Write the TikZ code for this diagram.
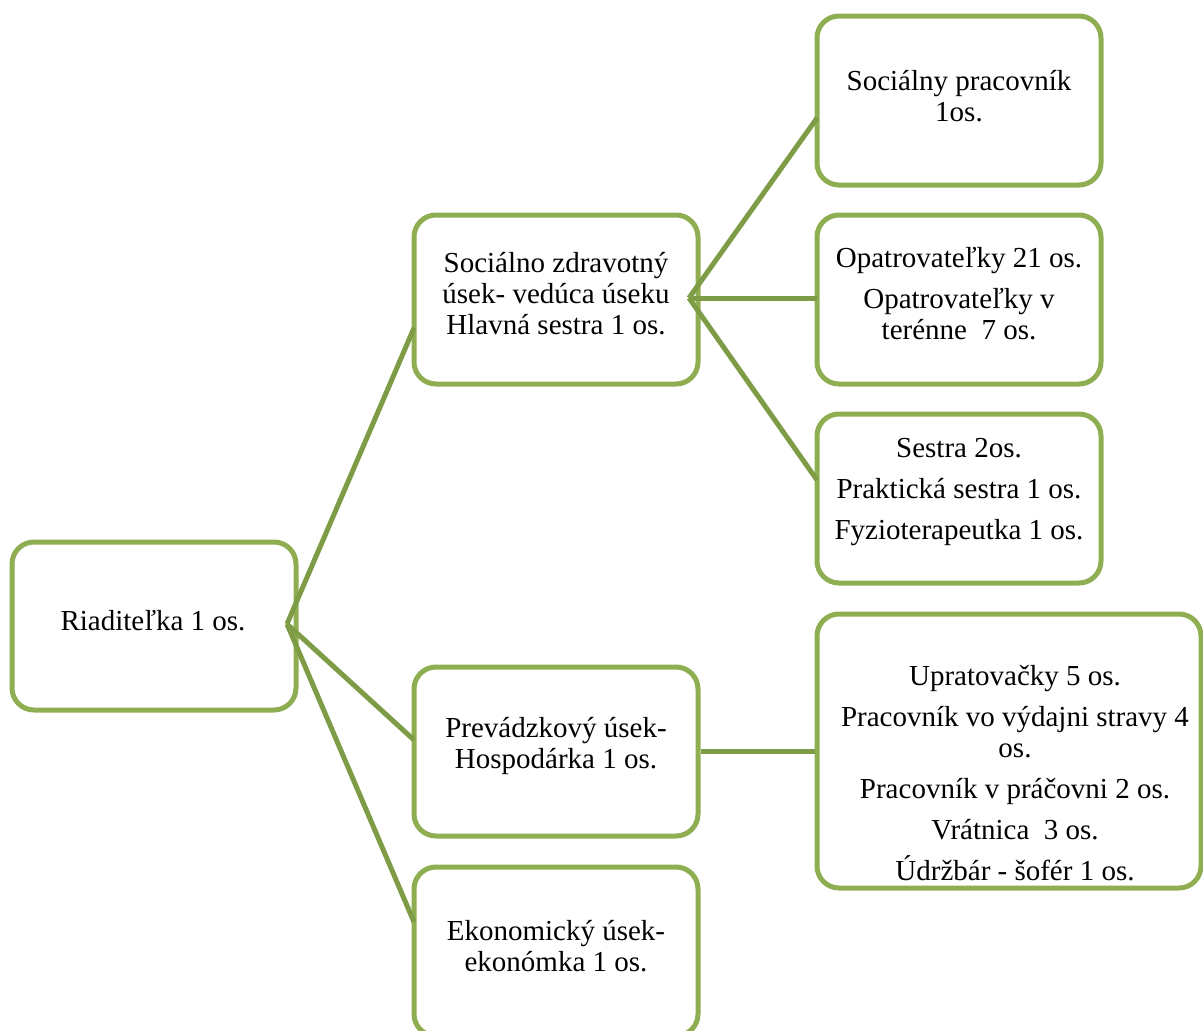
\documentclass[tikz,border=0pt]{standalone}
\usepackage{fontspec}
\setmainfont{Liberation Serif}
\definecolor{boxgreen}{RGB}{143,174,82}
\definecolor{linkgreen}{RGB}{126,156,70}
\begin{document}
\begin{tikzpicture}[x=1pt,y=-1pt,
  orgbox/.style={draw=boxgreen, line width=5pt, rounded corners=22pt, fill=white, inner sep=0pt},
  orgtext/.style={align=center, inner sep=0pt, font=\fontsize{29}{31}\selectfont},
  link/.style={draw=linkgreen, line width=5pt}]
\useasboundingbox (0,0) rectangle (1203,1031);
\clip (0,0) rectangle (1203,1031);
% connectors (drawn first, boxes on top)
\coordinate (rj) at (287,624);
\coordinate (szj) at (689,298);
\coordinate (szin) at (414,328);
\coordinate (prin) at (414,740);
\coordinate (ekin) at (414,922);
\coordinate (spin) at (817,118);
\coordinate (opin) at (817,298);
\coordinate (sein) at (817,480);
% boxes
\node[orgbox, minimum width=284pt, minimum height=168pt] (root) at (154,626) {};
\node[orgbox, minimum width=284pt, minimum height=169pt] (sz) at (556,299.5) {};
\node[orgbox, minimum width=284pt, minimum height=169pt] (sp) at (959,100.5) {};
\node[orgbox, minimum width=284pt, minimum height=169pt] (op) at (959,299.5) {};
\node[orgbox, minimum width=284pt, minimum height=169pt] (se) at (959,498.5) {};
\node[orgbox, minimum width=284pt, minimum height=169pt] (pr) at (556,751.5) {};
\node[orgbox, minimum width=284pt, minimum height=169pt] (ek) at (556,951.5) {};
\node[orgbox, minimum width=384pt, minimum height=274pt] (up) at (1009,751) {};
% connectors on top of box borders
\draw[link] (rj) -- (szin);
\draw[link] (rj) -- (prin);
\draw[link] (rj) -- (ekin);
\draw[link] (szj) -- (spin);
\draw[link] (szj) -- (opin);
\draw[link] (szj) -- (sein);
\draw[link] (pr.east |- 0,751) -- (up.west |- 0,751);
% texts
\node[orgtext] (troot) at (153,621) {Riaditeľka 1 os.};
\node[orgtext] (tsz) at (556,294) {Sociálno zdravotný\\úsek- vedúca úseku\\Hlavná sestra 1 os.};
\node[orgtext] (tsp) at (959,96) {Sociálny pracovník\\1os.};
\node[orgtext] (top) at (959,294) {Opatrovateľky 21 os.\\[10pt]Opatrovateľky v\\terénne\ \ 7 os.};
\node[orgtext] (tse) at (959,492) {Sestra 2os.\\[10pt]Praktická sestra 1 os.\\[10pt]Fyzioterapeutka 1 os.};
\node[orgtext] (tpr) at (556,746) {Prevádzkový úsek-\\Hospodárka 1 os.};
\node[orgtext] (tek) at (556,946) {Ekonomický úsek-\\ekonómka 1 os.};
\node[orgtext] (tup) at (1015,773) {Upratovačky 5 os.\\[10pt]Pracovník vo výdajni stravy 4\\os.\\[10pt]Pracovník v práčovni 2 os.\\[10pt]Vrátnica\ \ 3 os.\\[10pt]Údržbár - šofér 1 os.};
\end{tikzpicture}
\end{document}
